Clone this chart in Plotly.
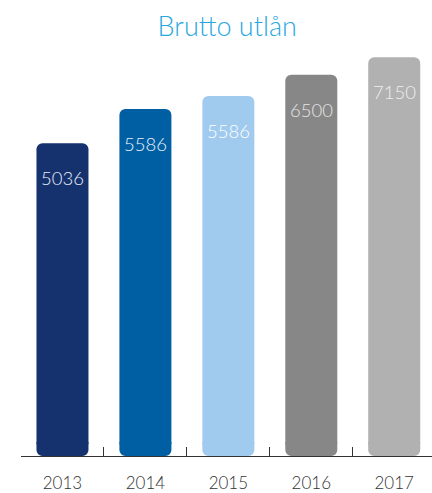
import plotly.graph_objects as go

# Data
years = ["2013", "2014", "2015", "2016", "2017"]
value_labels = ["5036", "5586", "5586", "6500", "7150"]
# Bar heights as drawn in the picture (same scale as 2013 = 5036)
bar_heights = [5036, 5587, 5796, 6140, 6420]
bar_colors = ["#15326e", "#005fa3", "#a0caee", "#878787", "#b1b1b1"]
label_colors = ["#e6ecf5", "#e6f0f8", "#ffffff", "#e4e4e4", "#eeeeee"]

FONT = "Lato"
scale = 5036 / 312.7  # value units per pixel
foot = 14 * scale      # short rounded foot below zero (gives rounded bottoms)

fig = go.Figure()
# main body (rounded top); bar spans visually from -foot to h - foot (length h)
fig.add_trace(go.Bar(
    x=years, y=[h - foot / 2 for h in bar_heights], base=[-foot / 2] * len(years),
    marker=dict(color=bar_colors, line=dict(width=0), opacity=1), opacity=1,
    hoverinfo="skip",
))
# foot (negative bar -> rounded bottom)
fig.add_trace(go.Bar(
    x=years, y=[-foot] * len(years),
    marker=dict(color=bar_colors, line=dict(width=0), opacity=1), opacity=1,
    hoverinfo="skip",
))

for i, (h, lab, c) in enumerate(zip(bar_heights, value_labels, label_colors)):
    fig.add_annotation(x=i, y=h - foot, text=lab, showarrow=False, yshift=-35,
                       xref="x", yref="y",
                       font=dict(family=FONT, size=18.5, color=c, weight=300))

fig.update_layout(
    width=432, height=493,
    margin=dict(l=20.7, r=0, t=56, b=37, autoexpand=False),
    paper_bgcolor="white", plot_bgcolor="white",
    barmode="overlay", bargap=0.373, barcornerradius=6,
    showlegend=False,
    title=dict(text="Brutto utlån", x=0.526, xanchor="center",
               y=1 - 26.7 / 493, yref="container", yanchor="middle",
               font=dict(family=FONT, size=27, color="#2aa7df", weight=300)),
    xaxis=dict(type="category", range=[-0.5, -0.5 + 411.3 / 83],
               showline=True, linecolor="#333333", linewidth=1,
               ticks="inside", ticklen=9, tickcolor="#333333", tickwidth=1,
               tickson="boundaries", showgrid=False, zeroline=False,
               tickfont=dict(family=FONT, size=17, color="#333333", weight=300),
               ticklabelstandoff=12, fixedrange=True),
    yaxis=dict(range=[-foot, 400 * scale - foot], visible=False, showgrid=False,
               zeroline=False, fixedrange=True),
)

fig.write_html("out.html", config={"displayModeBar": False, "staticPlot": True},
               post_script="document.body.style.margin='0';document.body.style.padding='0';")
